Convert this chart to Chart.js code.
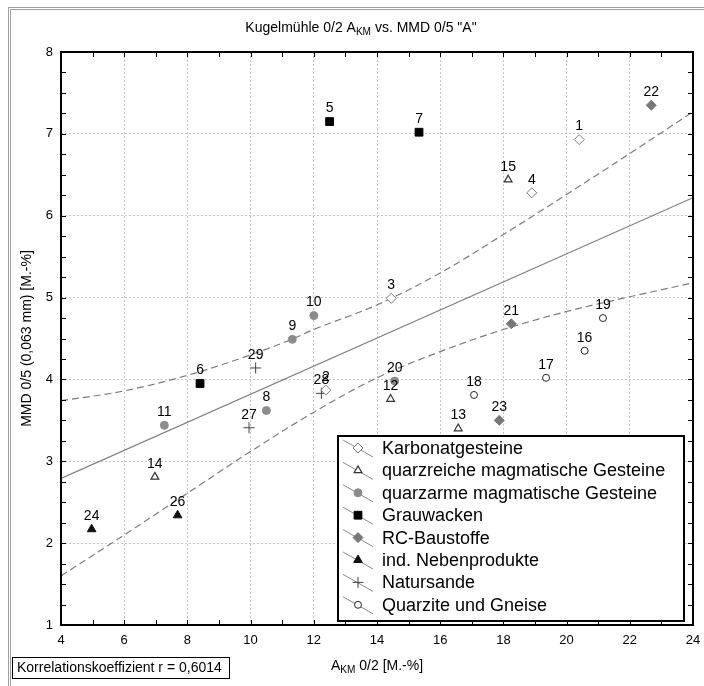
<!DOCTYPE html>
<html>
<head>
<meta charset="utf-8">
<style>
html,body{margin:0;padding:0;background:#fff;}
#wrap{position:relative;width:704px;height:686px;overflow:hidden;}
#frame{position:absolute;left:8px;top:7px;width:720px;height:720px;border-left:3px double #a0a0a0;border-top:3px double #a0a0a0;}
canvas{position:absolute;left:0;top:0;}
</style>
</head>
<body>
<div id="wrap"><div id="frame"></div><canvas id="myChart" width="704" height="686"></canvas></div>
<script src="https://cdn.jsdelivr.net/npm/chart.js@4/dist/chart.umd.min.js"></script>
<script>
var groups = ["Karbonatgesteine", "quarzreiche magmatische Gesteine", "quarzarme magmatische Gesteine", "Grauwacken", "RC-Baustoffe", "ind. Nebenprodukte", "Natursande", "Quarzite und Gneise"];

var sampleNr    = [1, 2, 3, 4, 5, 6, 7, 8, 9, 10, 11, 12, 13, 14, 15, 16, 17, 18, 19, 20, 21, 22, 23, 24, 26, 27, 28, 29];
var sampleX     = [20.4, 12.38, 14.45, 18.9, 12.5, 8.4, 15.33, 10.5, 11.32, 12.0, 7.27, 14.43, 16.57, 6.97, 18.15, 20.57, 19.35, 17.07, 21.15, 14.56, 18.25, 22.68, 17.87, 4.97, 7.69, 9.95, 12.24, 10.16];
var sampleY     = [6.93, 3.87, 4.99, 6.28, 7.15, 3.95, 7.02, 3.62, 4.49, 4.78, 3.44, 3.76, 3.40, 2.81, 6.44, 4.35, 4.02, 3.81, 4.75, 3.98, 4.68, 7.35, 3.50, 2.17, 2.34, 3.41, 3.83, 4.14];
var sampleGroup = [0, 0, 0, 0, 3, 3, 3, 2, 2, 2, 2, 1, 1, 1, 1, 7, 7, 7, 7, 2, 4, 4, 4, 5, 5, 6, 6, 6];

var regX = [4, 24];
var regY = [2.79, 6.22];

var upperX = [4, 6, 8, 10, 11.3, 12, 14, 16, 18, 20, 22, 24];
var upperY = [3.74, 3.86, 4.05, 4.30, 4.49, 4.61, 4.91, 5.30, 5.77, 6.26, 6.76, 7.27];
var lowerX = [4, 6, 8, 10, 12, 14, 16, 18, 20, 22, 24];
var lowerY = [1.60, 2.10, 2.61, 3.12, 3.60, 4.02, 4.34, 4.61, 4.83, 5.01, 5.18];

var xTicks = [4, 6, 8, 10, 12, 14, 16, 18, 20, 22, 24];
var yTicks = [1, 2, 3, 4, 5, 6, 7, 8];

var styles = [
	{pointStyle: "rectRot", radius: 5, backgroundColor: "#fff", borderColor: "#7a7a7a", borderWidth: 1},
	{pointStyle: "triangle", radius: 4.5, backgroundColor: "#fff", borderColor: "#333", borderWidth: 1.2},
	{pointStyle: "circle", radius: 4, backgroundColor: "#8c8c8c", borderColor: "#8c8c8c", borderWidth: 1},
	{pointStyle: "rect", radius: 5.5, backgroundColor: "#000", borderColor: "#000", borderWidth: 1},
	{pointStyle: "rectRot", radius: 5, backgroundColor: "#777", borderColor: "#777", borderWidth: 1},
	{pointStyle: "triangle", radius: 5, backgroundColor: "#111", borderColor: "#111", borderWidth: 1},
	{pointStyle: "cross", radius: 5.5, backgroundColor: "#444", borderColor: "#444", borderWidth: 1},
	{pointStyle: "circle", radius: 3.5, backgroundColor: "#fff", borderColor: "#222", borderWidth: 1}
];

function xy(xs, ys){
	var out = [];
	for(var i = 0; i < xs.length; i++) out.push({x: xs[i], y: ys[i]});
	return out;
}

var datasets = [];
for(var g = 0; g < groups.length; g++){
	var pts = [], nrs = [];
	for(var i = 0; i < sampleNr.length; i++){
		if(sampleGroup[i] == g){
			pts.push({x: sampleX[i], y: sampleY[i]});
			nrs.push(sampleNr[i]);
		}
	}
	var s = styles[g];
	datasets.push({
		label: groups[g],
		data: pts,
		nrs: nrs,
		order: 0,
		pointStyle: s.pointStyle,
		pointRadius: s.radius,
		pointBackgroundColor: s.backgroundColor,
		pointBorderColor: s.borderColor,
		pointBorderWidth: s.borderWidth
	});
}
var lineBase = {type: "line", showLine: true, pointRadius: 0, fill: false, order: 1, borderColor: "#7c7c7c", borderWidth: 1.2};
datasets.push(Object.assign({}, lineBase, {label: "reg", data: xy(regX, regY)}));
datasets.push(Object.assign({}, lineBase, {label: "upper", data: xy(upperX, upperY), borderDash: [7, 4], cubicInterpolationMode: "monotone"}));
datasets.push(Object.assign({}, lineBase, {label: "lower", data: xy(lowerX, lowerY), borderDash: [7, 4], cubicInterpolationMode: "monotone"}));

var FONT = "'Liberation Sans', Arial, sans-serif";

function subText(ctx, parts, cx, cy, size){
	// parts: [text, isSub]
	var w = 0;
	for(var p of parts){
		ctx.font = (p[1] ? size * 0.72 : size) + "px " + FONT;
		w += ctx.measureText(p[0]).width;
	}
	var x = cx - w / 2;
	ctx.textAlign = "left";
	ctx.textBaseline = "middle";
	for(var p of parts){
		ctx.font = (p[1] ? size * 0.72 : size) + "px " + FONT;
		ctx.fillText(p[0], x, cy + (p[1] ? size * 0.3 : 0));
		x += ctx.measureText(p[0]).width;
	}
}

var decor = {
	id: "decor",
	afterDraw: function(chart){
		var ctx = chart.ctx, a = chart.chartArea;
		var xs = chart.scales.x, ys = chart.scales.y;
		ctx.save();
		ctx.fillStyle = "#000";
		ctx.strokeStyle = "#000";

		// inward ticks on all four sides
		ctx.lineWidth = 1;
		ctx.beginPath();
		for(var v = 4; v <= 24; v += 1){
			var px = Math.round(xs.getPixelForValue(v)) + 0.5;
			ctx.moveTo(px, a.bottom); ctx.lineTo(px, a.bottom - 5);
			ctx.moveTo(px, a.top); ctx.lineTo(px, a.top + 5);
		}
		for(var v = 1; v <= 8; v += 0.25){
			var py = Math.round(ys.getPixelForValue(v)) + 0.5;
			ctx.moveTo(a.left, py); ctx.lineTo(a.left + 5, py);
			ctx.moveTo(a.right, py); ctx.lineTo(a.right - 5, py);
		}
		ctx.stroke();

		// plot frame
		ctx.lineWidth = 2;
		ctx.strokeRect(a.left, a.top, a.right - a.left, a.bottom - a.top);

		// point numbers
		ctx.font = "14px " + FONT;
		ctx.textAlign = "center";
		ctx.textBaseline = "middle";
		chart.data.datasets.forEach(function(ds, i){
			if(!ds.nrs) return;
			chart.getDatasetMeta(i).data.forEach(function(el, j){
				ctx.fillText(String(ds.nrs[j]), el.x, el.y - 13);
			});
		});

		// legend
		var lx = 338, ly = 436, lw = 346, lh = 185;
		ctx.fillStyle = "#fff";
		ctx.fillRect(lx, ly, lw, lh);
		ctx.lineWidth = 2;
		ctx.strokeStyle = "#000";
		ctx.strokeRect(lx, ly, lw, lh);
		for(var g = 0; g < groups.length; g++){
			var yc = ly + 12 + g * 22.4;
			ctx.strokeStyle = "#8a8a8a";
			ctx.lineWidth = 1;
			ctx.beginPath();
			ctx.moveTo(lx + 5, yc - 8);
			ctx.lineTo(lx + 35, yc + 9);
			ctx.stroke();
			var s = styles[g];
			ctx.fillStyle = s.backgroundColor;
			ctx.strokeStyle = s.borderColor;
			ctx.lineWidth = s.borderWidth;
			Chart.helpers.drawPoint(ctx, {pointStyle: s.pointStyle, radius: s.radius, rotation: 0, borderWidth: s.borderWidth}, lx + 20, yc);
			ctx.fillStyle = "#000";
			ctx.font = "18px " + FONT;
			ctx.textAlign = "left";
			ctx.textBaseline = "middle";
			ctx.fillText(groups[g], lx + 44, yc + 1);
		}

		// titles
		ctx.fillStyle = "#000";
		subText(ctx, [["Kugelmühle 0/2 A", false], ["KM", true], [" vs. MMD 0/5 \"A\"", false]], 361, 28, 14);
		subText(ctx, [["A", false], ["KM", true], [" 0/2 [M.-%]", false]], (a.left + a.right) / 2, 666, 14);

		ctx.save();
		ctx.translate(27, (a.top + a.bottom) / 2);
		ctx.rotate(-Math.PI / 2);
		ctx.font = "14px " + FONT;
		ctx.textAlign = "center";
		ctx.textBaseline = "middle";
		ctx.fillText("MMD 0/5 (0,063 mm) [M.-%]", 0, 0);
		ctx.restore();

		// correlation box
		ctx.lineWidth = 1;
		ctx.strokeStyle = "#000";
		ctx.strokeRect(12.5, 657.5, 217, 21);
		ctx.font = "14px " + FONT;
		ctx.textAlign = "left";
		ctx.textBaseline = "middle";
		ctx.fillText("Korrelationskoeffizient r = 0,6014", 17, 668.5);
		ctx.restore();
	}
};

var ctx = document.getElementById("myChart").getContext("2d");
var myChart = new Chart(ctx, {
	type: "scatter",
	data: {datasets: datasets},
	options: {
		responsive: false,
		animation: false,
		devicePixelRatio: 1,
		layout: {padding: {top: 52, right: 11, left: 0, bottom: 0}},
		plugins: {legend: {display: false}, tooltip: {enabled: false}, title: {display: false}},
		scales: {
			x: {
				type: "linear", min: 4, max: 24,
				afterBuildTicks: function(s){ s.ticks = xTicks.map(function(v){ return {value: v}; }); },
				afterFit: function(s){ s.height = 61; s.paddingLeft = 0; s.paddingRight = 0; },
				ticks: {color: "#000", font: {family: FONT, size: 13}, padding: 8, maxRotation: 0, autoSkip: false},
				grid: {color: "#c4c4c4", lineWidth: 1, drawTicks: false},
				border: {display: false, dash: [2, 2]}
			},
			y: {
				type: "linear", min: 1, max: 8,
				afterBuildTicks: function(s){ s.ticks = yTicks.map(function(v){ return {value: v}; }); },
				afterFit: function(s){ s.width = 61; s.paddingTop = 0; s.paddingBottom = 0; },
				ticks: {color: "#000", font: {family: FONT, size: 13}, padding: 8, autoSkip: false},
				grid: {color: "#c4c4c4", lineWidth: 1, drawTicks: false},
				border: {display: false, dash: [2, 2]}
			}
		}
	},
	plugins: [decor]
});
</script>
</body>
</html>
